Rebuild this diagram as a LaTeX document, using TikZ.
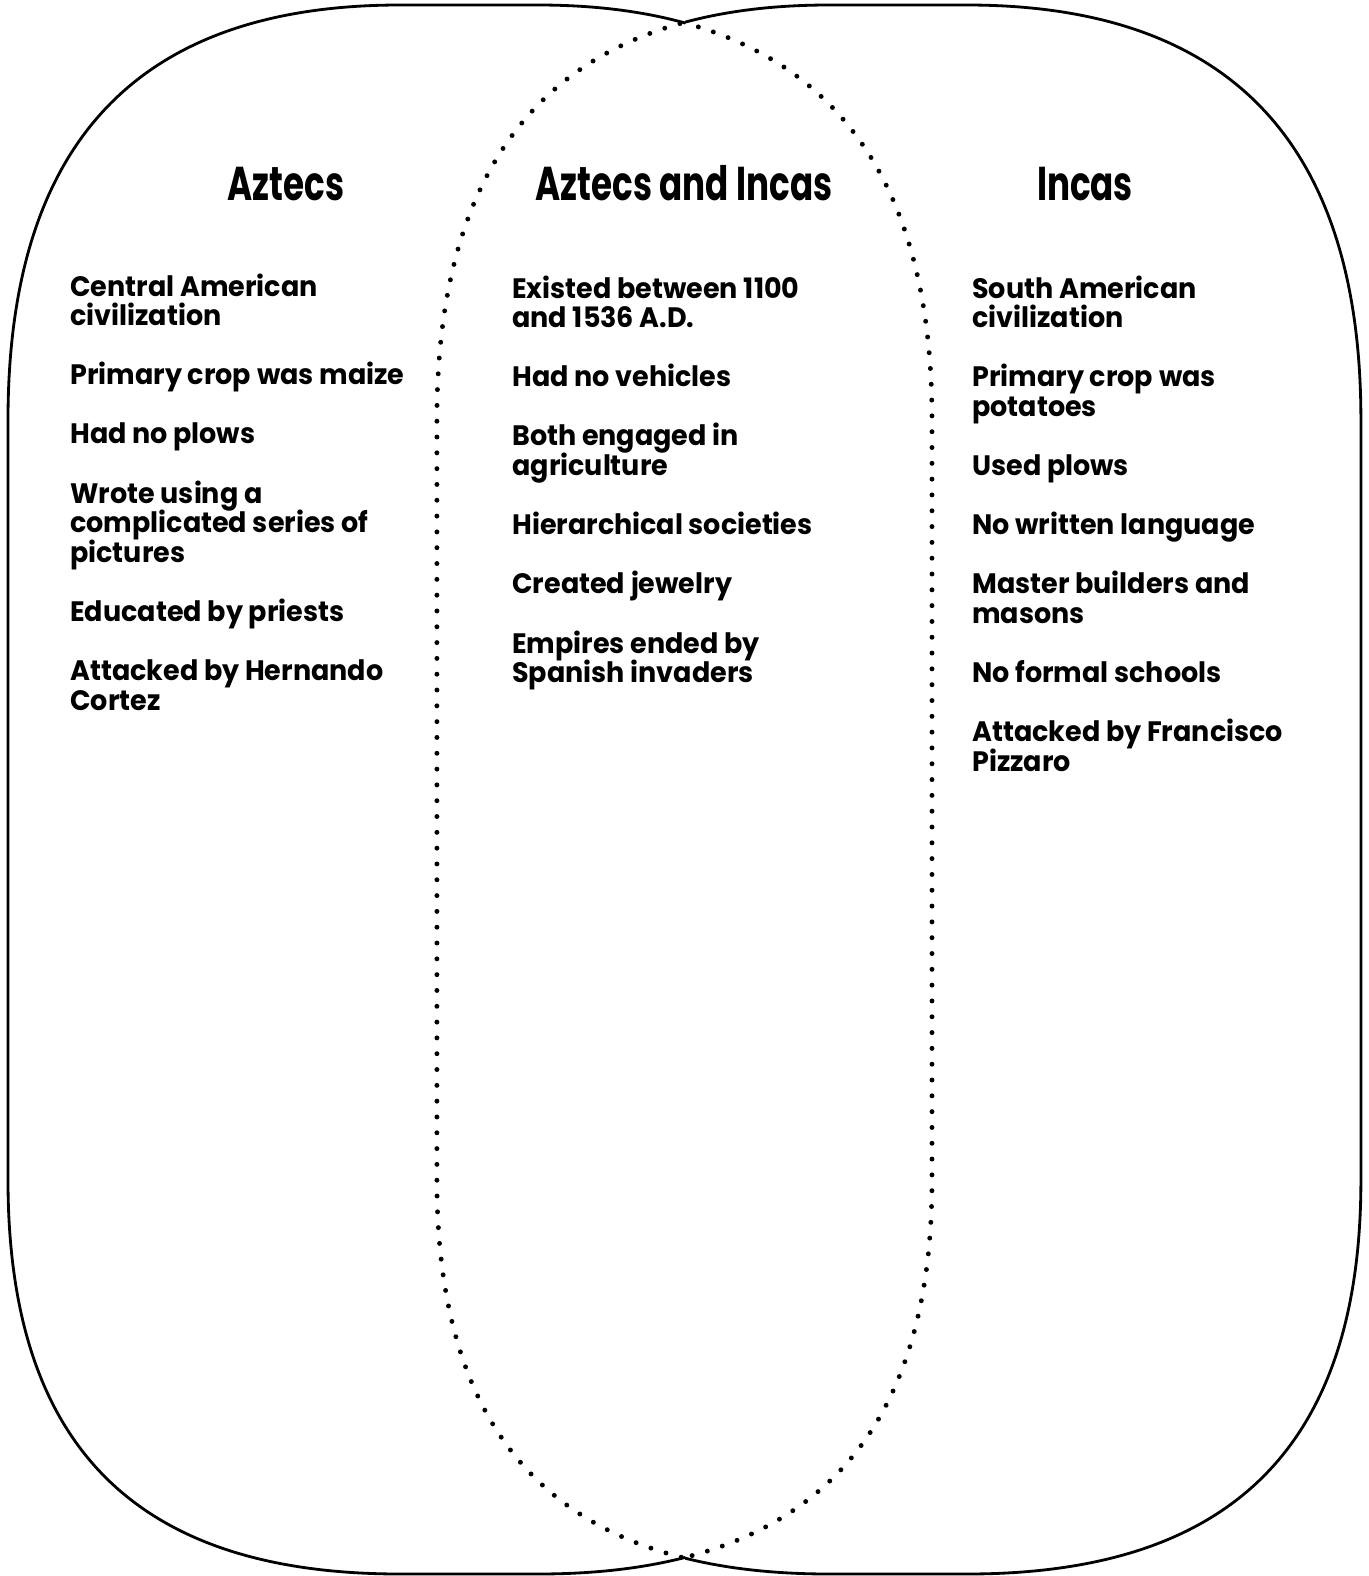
\documentclass[tikz,border=0pt]{standalone}
\usepackage{fontspec}
\setmainfont{Poppins}[FakeStretch=0.96]
\newfontfamily\headfont[FakeStretch=0.72]{Poppins}
\usetikzlibrary{positioning}

% outline of one oval, left one (x from 8 to 932)
\newcommand{\ovalpath}{(400,5) -- (538,5) .. controls (788,5) and (932,130) .. (932,420)
  -- (932,1180) .. controls (932,1460) and (788,1574) .. (538,1574)
  -- (400,1574) .. controls (150,1574) and (8,1460) .. (8,1180)
  -- (8,420) .. controls (8,130) and (150,5) .. (400,5) -- cycle}
\newcommand{\itemlist}[1]{\parbox[t]{7.6cm}{\raggedright
  \setlength{\lineskiplimit}{-20pt}\setlength{\lineskip}{0pt}%
  \setlength{\parskip}{0.594cm}#1}}

\begin{document}
\begin{tikzpicture}[x=0.02cm, y=-0.02cm,
   solid line/.style={line width=1.6pt},
   dot line/.style={line width=2.8pt, line cap=round, dash pattern=on 0pt off 9pt},
   head/.style={anchor=base, inner sep=0pt, font=\headfont\bfseries\fontsize{27}{27}\selectfont},
   col/.style={anchor=base west, inner sep=0pt, font=\bfseries\fontsize{16}{16.8}\selectfont}]
\useasboundingbox (0,0) rectangle (1369,1576);

% left oval: solid outside, dotted inside the right one
\begin{scope}
\clip (-20,-20) rectangle (685,1600);
\draw[solid line] \ovalpath;
\end{scope}
\begin{scope}
\clip (685,-20) rectangle (1400,1600);
\draw[dot line] \ovalpath;
\end{scope}
% right oval
\begin{scope}
\clip (685,-20) rectangle (1400,1600);
\begin{scope}[xshift=8.58cm]
\draw[solid line] \ovalpath;
\end{scope}
\end{scope}
\begin{scope}
\clip (-20,-20) rectangle (685,1600);
\begin{scope}[xshift=8.58cm]
\draw[dot line] \ovalpath;
\end{scope}
\end{scope}

\node[head] (aztecs) at (286,200) {Aztecs};
\node[head] (both) at (684,200) {Aztecs and Incas};
\node[head] (incas) at (1085,200) {Incas};

\node[col] (aztecslist) at (70,296) {\itemlist{%
  Central American\\civilization\par
  Primary crop was maize\par
  Had no plows\par
  Wrote using a\\complicated series of\\pictures\par
  Educated by priests\par
  Attacked by Hernando\\Cortez}};
\node[col] (bothlist) at (512,298) {\itemlist{%
  Existed between 1100\\and 1536 A.D.\par
  Had no vehicles\par
  Both engaged in\\agriculture\par
  Hierarchical societies\par
  Created jewelry\par
  Empires ended by\\Spanish invaders}};
\node[col] (incaslist) at (972,298) {\itemlist{%
  South American\\civilization\par
  Primary crop was\\potatoes\par
  Used plows\par
  No written language\par
  Master builders and\\masons\par
  No formal schools\par
  Attacked by Francisco\\Pizzaro}};
\end{tikzpicture}
\end{document}
